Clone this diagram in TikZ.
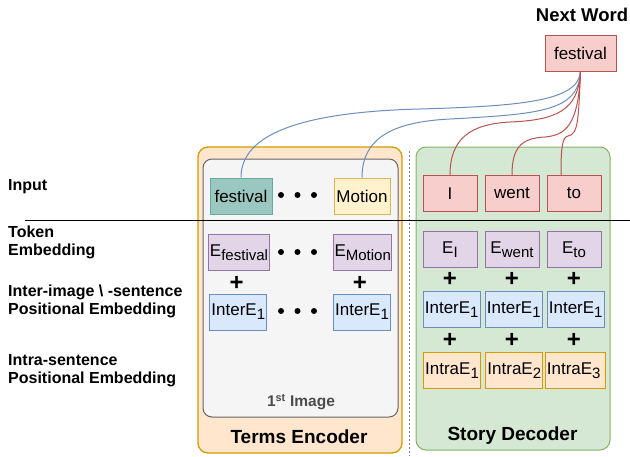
\documentclass[tikz,border=0pt]{standalone}
\usepackage{fontspec}
\setmainfont{Liberation Sans}
\usetikzlibrary{positioning}

% box colours: f = fill, d = draw
\definecolor{ftl}{HTML}{9AC7BF}\definecolor{dtl}{HTML}{67AB9F}
\definecolor{fyl}{HTML}{FFF2CC}\definecolor{dyl}{HTML}{D6B656}
\definecolor{fpu}{HTML}{E1D5E7}\definecolor{dpu}{HTML}{9673A6}
\definecolor{fbl}{HTML}{DAE8FC}\definecolor{dbl}{HTML}{6C8EBF}
\definecolor{for}{HTML}{FFE6CC}\definecolor{dor}{HTML}{D79B00}
\definecolor{frd}{HTML}{F8CECC}\definecolor{drd}{HTML}{B85450}
\definecolor{fgn}{HTML}{D5E8D4}\definecolor{dgn}{HTML}{82B366}
\definecolor{fgy}{HTML}{F5F5F5}\definecolor{dgy}{HTML}{666666}

\newcommand{\lowtxt}[1]{\raisebox{-4pt}{\fontsize{15}{15}\selectfont #1}}

\begin{document}
\begin{tikzpicture}[x=1pt,y=-1pt,%
					wbox/.style={draw,line width=1pt,minimum height=36,inner xsep=1pt,inner ysep=0pt,font=\fontsize{17}{20}\selectfont},%
					pls/.style={inner sep=0pt,font=\fontsize{24}{24}\selectfont\bfseries},%
					lbl/.style={anchor=west,align=left,inner sep=0pt,font=\fontsize{16}{18}\selectfont\bfseries},%
					ttl/.style={inner sep=0pt,font=\fontsize{19}{22}\selectfont\bfseries},%
					blink/.style={draw=dbl,line width=1pt},%
					rlink/.style={draw=drd,line width=1pt}]
\useasboundingbox (0,0) rectangle (630,456);

% the two blocks
\draw [fill=for,draw=dor,line width=1.3pt,rounded corners=10pt] (198,147) rectangle (402,453);
\draw [fill=fgy,draw=dgy,line width=1pt,rounded corners=9pt] (203,159) rectangle (398,417);
\draw [fill=fgn,draw=dgn,line width=1pt,rounded corners=10pt] (416,147) rectangle (610,450);

\draw [gray,line width=1pt,dash pattern=on 2pt off 2pt] (409,151) -- (409,456);
\draw [line width=1pt] (25,220) -- (630,220);

% row labels
\node [lbl] (input) at (8,187) {Input};
\node [lbl] (token) at (8,242) {Token\\Embedding};
\node [lbl] (inter) at (8,301) {Inter-image \textbackslash\ -sentence\\Positional Embedding};
\node [lbl] (intra) at (8,371) {Intra-sentence\\Positional Embedding};

% terms encoder
\foreach \n/\x/\y/\w/\c/\t in { fes/241/196/62/tl/{festival}, mot/362/196/56/yl/{Motion},%
		efes/239/252.5/58/pu/{E\lowtxt{festival}}, emot/362.7/252.5/58/pu/{E\lowtxt{Motion}},%
		ifes/238.3/312/57/bl/{InterE\lowtxt{1}}, imot/362/312/57/bl/{InterE\lowtxt{1}} }
	\node [wbox,fill=f\c,draw=d\c,minimum width=\w] (\n) at (\x,\y) {\t};

\foreach \y in {195,252,311}
	\foreach \x in {281,297.5,314}
		\fill (\x,\y) circle (3pt);

\node [pls] (pa) at (236.7,283) {+};
\node [pls] (pb) at (360,283) {+};

\node [ttl,font=\fontsize{15.5}{18}\selectfont\bfseries,text=black!70] (img) at (301,402) {1\textsuperscript{st} Image};
\node [ttl] (tenc) at (299,437) {Terms Encoder};

% story decoder
\foreach \n/\x/\t in { wi/450/I, wwent/512/went, wto/574/to }
	\node [wbox,fill=frd,draw=drd,minimum width=54] (\n) at (\x,193.5) {\t};
\foreach \n/\x/\t in { ei/450/{E\lowtxt{I}}, ewent/512/{E\lowtxt{went}}, eto/574/{E\lowtxt{to}} }
	\node [wbox,fill=fpu,draw=dpu,minimum width=54] (\n) at (\x,249.5) {\t};
\foreach \n/\x in { iri/451.7, irwent/513.8, irto/575.7 }
	\node [wbox,fill=fbl,draw=dbl,minimum width=57] (\n) at (\x,309.3) {InterE\lowtxt{1}};
\foreach \n/\x/\k in { ai/452/1, awent/514.3/2, ato/575.8/3 }
	\node [wbox,fill=for,draw=dor,minimum width=57] (\n) at (\x,370.3) {IntraE\lowtxt{\k}};

\foreach \x in {450,512,574}
	{\node [pls] at (\x,279.3) {+};
	 \node [pls] at (\x,340.7) {+};}

\node [ttl] (sdec) at (512.5,436) {Story Decoder};

% next word
\node [wbox,fill=frd,draw=drd,minimum width=71] (nw) at (580.5,53) {festival};
\node [ttl,font=\fontsize{18.5}{22}\selectfont\bfseries] (nwt) at (582,15) {Next Word};

\draw [blink] (nw.south) .. controls +(-2,30) and (520,106) .. (420,109) .. controls (300,112) and +(0,-43) .. (fes.north);
\draw [blink] (nw.south) .. controls +(-2,40) and (540,114) .. (450,119) .. controls (390,122) and +(0,-38) .. (mot.north);
\draw [rlink] (nw.south) .. controls +(-2,40) and (555,120) .. (510,122) .. controls (470,124) and +(0,-36) .. (wi.north);
\draw [rlink] (nw.south) .. controls +(-2,55) and (565,135) .. (545,137) .. controls (520,138) and +(0,-26) .. (wwent.north);
\draw [rlink] (nw.south) .. controls +(-2,50) and (578,134) .. (568,136) .. controls (562,137) and +(0,-26) .. ([xshift=-13pt]wto.north);

\end{tikzpicture}
\end{document}
